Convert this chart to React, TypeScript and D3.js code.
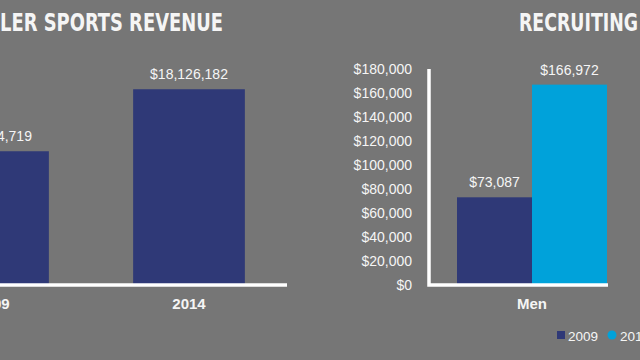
import React from 'react';
import * as d3 from 'd3';

const leftTitle = 'LER SPORTS REVENUE';
const rightTitle = 'RECRUITING';
const leftCategories = ['2009', '2014'];
const leftValues = [12384719, 18126182];
const rightCategories = ['Men'];
const seriesNames = ['2009', '2014'];
const series2009 = [73087];
const series2014 = [166972];

const W = 640;
const H = 360;
const BG = '#767676';
const NAVY = '#2f3977';
const CYAN = '#00a2da';
const TXT = '#f5f5f5';
const FONT = '"Liberation Sans", Arial, Helvetica, sans-serif';
const TITLE_FONT = '"DejaVu Sans Condensed", "DejaVu Sans", sans-serif';

export default function App() {
  const fmt = d3.format('$,');
  const baseY = 285;
  const topY = 69;

  // Left chart
  const xLeft = d3.scaleBand<string>().domain(leftCategories).range([-105, 287]).paddingInner(0.43).paddingOuter(0.215);
  const yLeft = d3.scaleLinear().domain([0, 20000000]).range([baseY, topY]);

  // Right chart
  const x0 = d3.scaleBand<string>().domain(rightCategories).range([429, 635]).paddingInner(0).paddingOuter(0.1867);
  const x1 = d3.scaleBand<string>().domain(seriesNames).range([0, x0.bandwidth()]);
  const yRight = d3.scaleLinear().domain([0, 180000]).range([baseY, topY]);
  const rightTicks = yRight.ticks(10);
  const seriesData = [series2009, series2014];
  const colors = [NAVY, CYAN];
  const axisEnd = (x0(rightCategories[rightCategories.length - 1]) as number) + x0.bandwidth() + 1;

  return (
    <svg width={W} height={H} style={{ position: 'absolute', left: 0, top: 0, display: 'block' }} fontFamily={FONT}>
      <rect x={0} y={0} width={W} height={H} fill={BG} />

      {/* Titles */}
      <text x={0} y={31} fill={TXT} fontFamily={TITLE_FONT} fontSize={24.5} fontWeight="bold" textLength={223} lengthAdjust="spacingAndGlyphs">{leftTitle}</text>
      <text x={519} y={31} fill={TXT} fontFamily={TITLE_FONT} fontSize={24.5} fontWeight="bold" textLength={119} lengthAdjust="spacingAndGlyphs">{rightTitle}</text>

      {/* Left chart bars */}
      {leftCategories.map((c, i) => {
        const x = xLeft(c) as number;
        const y = yLeft(leftValues[i]);
        return (
          <g key={c}>
            <rect x={x} y={y} width={xLeft.bandwidth()} height={baseY - y} fill={NAVY} />
            <text x={x + xLeft.bandwidth() / 2} y={y - 10} fill={TXT} fontSize={14} textAnchor="middle">{fmt(leftValues[i])}</text>
            <text x={x + xLeft.bandwidth() / 2} y={309} fill={TXT} fontSize={15} fontWeight="bold" textAnchor="middle">{c}</text>
          </g>
        );
      })}
      <line x1={0} x2={287} y1={baseY} y2={baseY} stroke="#ffffff" strokeWidth={3.5} />

      {/* Right chart y ticks */}
      {rightTicks.map((t) => (
        <text key={t} x={412} y={yRight(t)} dy="0.38em" fill={TXT} fontSize={14} textAnchor="end">{fmt(t)}</text>
      ))}

      {/* Right chart bars */}
      {rightCategories.map((c, ci) => (
        <g key={c} transform={`translate(${x0(c)},0)`}>
          {seriesNames.map((s, si) => {
            const v = seriesData[si][ci];
            const x = x1(s) as number;
            const y = yRight(v);
            return (
              <g key={s}>
                <rect x={x} y={y} width={x1.bandwidth()} height={baseY - y} fill={colors[si]} />
                <text x={x + x1.bandwidth() / 2} y={y - 10} fill={TXT} fontSize={14} textAnchor="middle">{fmt(v)}</text>
              </g>
            );
          })}
          <text x={x0.bandwidth() / 2} y={309} fill={TXT} fontSize={15} fontWeight="bold" textAnchor="middle">{c}</text>
        </g>
      ))}
      <path d={`M429,${topY} L429,${baseY} L${axisEnd},${baseY}`} fill="none" stroke="#ffffff" strokeWidth={3.5} />

      {/* Legend */}
      <rect x={557} y={331} width={8} height={8} fill={NAVY} />
      <text x={568} y={341} fill={TXT} fontSize={13.5}>{seriesNames[0]}</text>
      <circle cx={612} cy={335} r={4.5} fill={CYAN} />
      <text x={620} y={341} fill={TXT} fontSize={13.5}>{seriesNames[1]}</text>
    </svg>
  );
}
